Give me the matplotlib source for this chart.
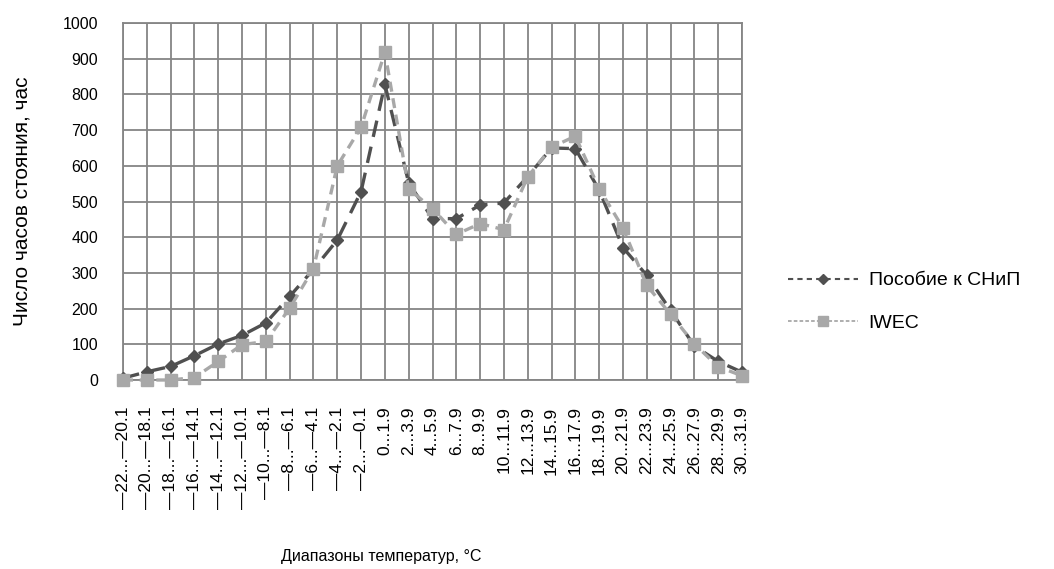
import matplotlib
matplotlib.use("Agg")
import matplotlib.pyplot as plt
from matplotlib.lines import Line2D

categories = ["—22...—20.1", "—20...—18.1", "—18...—16.1", "—16...—14.1", "—14...—12.1",
              "—12...—10.1", "—10...—8.1", "—8...—6.1", "—6...—4.1", "—4...—2.1",
              "—2...—0.1", "0...1.9", "2...3.9", "4...5.9", "6...7.9", "8...9.9",
              "10...11.9", "12...13.9", "14...15.9", "16...17.9", "18...19.9",
              "20...21.9", "22...23.9", "24...25.9", "26...27.9", "28...29.9", "30...31.9"]
snip = [5, 23, 38, 68, 101, 125, 160, 234, 310, 392, 528, 828, 552, 452, 452, 490, 496,
        570, 650, 648, 532, 371, 293, 195, 95, 52, 22]
iwec = [0, 0, 0, 7, 52, 99, 108, 201, 312, 600, 708, 918, 535, 480, 408, 438, 421,
        569, 652, 683, 536, 426, 265, 184, 101, 37, 12]
series_names = ["Пособие к СНиП", "IWEC"]
yticks = list(range(0, 1001, 100))

plt.rcParams['font.family'] = ['Liberation Sans', 'DejaVu Sans']

dark = '#505050'
light = '#a8a8a8'

fig = plt.figure(figsize=(10.54, 5.69), dpi=100)
ax = fig.add_axes([123/1054, 1-380/569, (742-123)/1054, (380-23)/569])

x = list(range(len(categories)))
ax.plot(x, snip, color=dark, linestyle=(0, (5, 3)), linewidth=2.4,
        marker='D', markersize=6.5, markerfacecolor=dark, markeredgecolor=dark,
        clip_on=False, zorder=3)
ax.plot(x, iwec, color=light, linestyle=(0, (3, 2)), linewidth=2.4,
        marker='s', markersize=8.5, markerfacecolor=light, markeredgecolor=light,
        clip_on=False, zorder=4)

ax.set_xlim(0, len(categories) - 1)
ax.set_ylim(0, 1000)
ax.set_yticks(yticks)
ax.set_xticks(x)
ax.set_xticklabels(categories, rotation=90, fontsize=12.5)
ax.tick_params(axis='y', labelsize=11.5, length=0, pad=18)
ax.tick_params(axis='x', length=0, pad=19)
ax.grid(True, color='#858585', linewidth=1.3)
ax.set_axisbelow(True)
for s in ax.spines.values():
    s.set_color('#858585')
    s.set_linewidth(1.3)

ax.set_ylabel("Число часов стояния, час", fontsize=15)
ax.yaxis.set_label_coords((32-123)/619, 0.5)
fig.text(381/1054, 1-556/569, "Диапазоны температур, °С", fontsize=11.5, ha='center', va='center')

h1 = Line2D([], [], color=dark, linestyle=(0, (2.5, 2)), linewidth=1.5,
            marker='D', markersize=5, markerfacecolor=dark, markeredgecolor=dark)
h2 = Line2D([], [], color=light, linestyle=(0, (2, 1.2)), linewidth=1.3,
            marker='s', markersize=6.5, markerfacecolor=light, markeredgecolor=light)
leg = fig.legend([h1, h2], series_names, loc='center left',
                 bbox_to_anchor=(788/1054, 1-302/569), bbox_transform=fig.transFigure,
                 frameon=False, fontsize=14, handlelength=3.6, handletextpad=0.55,
                 labelspacing=1.3, borderaxespad=0, borderpad=0)

fig.savefig("out.png", dpi=100)
